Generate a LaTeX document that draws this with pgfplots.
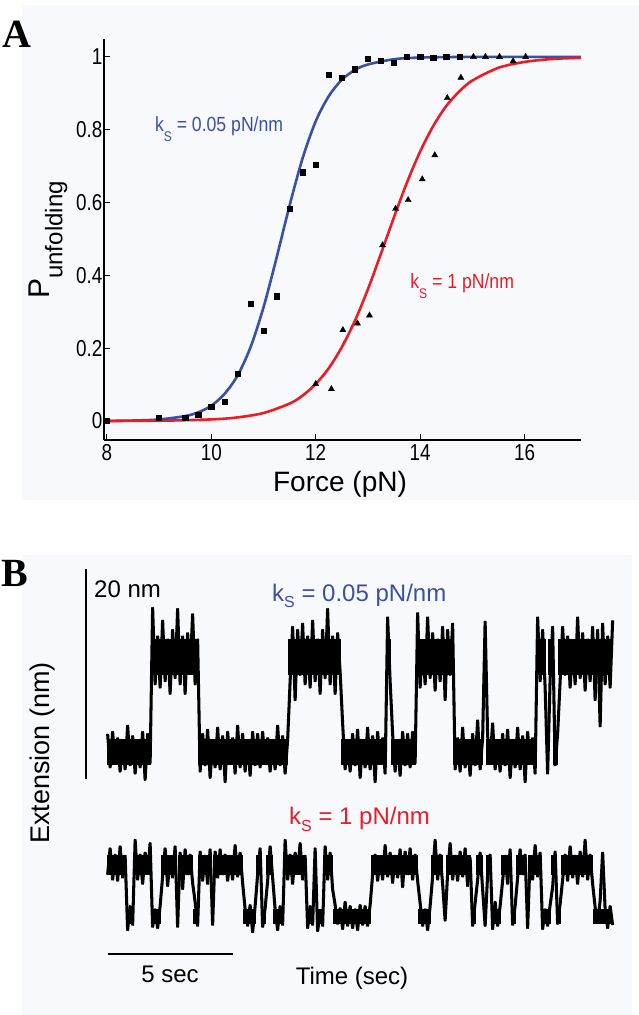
\documentclass[border=0pt]{standalone}
\usepackage{pgfplots}
\pgfplotsset{compat=1.18}
\usepackage{fontspec}
\setmainfont{Liberation Sans}
\newfontfamily\cfont{Liberation Sans}[FakeStretch=0.86]
\newfontfamily\tfont{Liberation Sans}[FakeStretch=0.82]
\newfontfamily\serifb{Liberation Serif}
\definecolor{bgc}{RGB}{248,249,252}
\definecolor{fitblue}{RGB}{58,80,168}
\definecolor{fitred}{RGB}{236,28,36}
\pgfplotsset{trace/.style={black, line width=1.8pt, line join=round, mark=none},
  core/.style={black, mark=none, unbounded coords=jump, line cap=butt}}
% extension traces (time in s, extension in nm)
\newcommand\toptrace{(0,4.3)(0.1,1.1)(0.2,4.5)(0.3,1.5)(0.4,3.9)(0.5,0.7)(0.6,3.6)(0.7,0.9)(0.8,5.1)(0.9,1.3)(1,4.1)(1.1,0.5)(1.2,3.7)(1.3,1.1)(1.4,4.5)(1.5,-0.1)(1.6,4.3)(1.7,1.5)
(1.8,16.3)(1.9,9.0)(2,13.6)(2.1,8.7)(2.2,15.1)(2.3,9.3)(2.4,13.3)(2.5,8.1)(2.6,14.2)(2.7,9.6)(2.8,16.2)(2.9,9.0)(3,13.6)(3.1,8.1)(3.2,13.9)(3.3,10.2)(3.4,15.7)(3.5,9.0)(3.6,13.3)
(3.7,0.7)(3.8,4.3)(3.9,1.3)(4,4.7)(4.1,0.1)(4.2,3.6)(4.3,1.1)(4.4,4.9)(4.5,0.9)(4.6,4.1)(4.7,-0.3)(4.8,4.5)(4.9,1.5)(5,3.9)(5.1,0.5)(5.2,5.1)(5.3,1.1)(5.4,4.3)(5.5,0.7)(5.6,3.7)(5.7,0.3)(5.8,4.5)(5.9,1.3)(6,4.3)(6.1,1.1)(6.2,4.5)(6.3,1.5)(6.4,3.9)(6.5,0.7)(6.6,3.6)(6.7,0.9)(6.8,5.1)(6.9,1.3)(7,4.1)(7.1,0.5)(7.2,3.7)
(7.3,9.3)(7.4,14.5)(7.5,7.5)(7.6,14.2)(7.7,9.9)(7.8,14.8)(7.9,9.0)(8,13.6)(8.1,8.7)(8.2,15.1)(8.3,9.3)(8.4,13.3)(8.5,8.1)(8.6,14.2)(8.7,9.6)(8.8,16.2)(8.9,9.0)(9,13.6)(9.1,8.1)(9.2,13.9)(9.3,10.2)
(9.4,5.3)(9.5,0.9)(9.6,3.7)(9.7,0.7)(9.8,4.3)(9.9,1.3)(10,4.7)(10.1,0.1)(10.2,3.6)(10.3,1.1)(10.4,4.9)(10.5,0.9)(10.6,4.1)(10.7,-0.3)(10.8,4.5)(10.9,1.5)(11,3.9)(11.1,0.5)
(11.2,15.4)(11.3,9.3)
(11.4,4.3)(11.5,0.7)(11.6,3.7)(11.7,0.3)(11.8,4.5)(11.9,1.3)(12,4.3)(12.1,1.1)(12.2,4.5)(12.3,1.5)
(12.4,15.8)(12.5,8.7)(12.6,13.1)(12.7,9.0)(12.8,15.4)(12.9,9.6)(13,13.9)(13.1,8.4)(13.2,13.3)(13.3,9.3)(13.4,14.5)(13.5,7.5)(13.6,14.2)(13.7,9.9)(13.8,14.8)
(13.9,0.9)(14,3.9)(14.1,0.7)(14.2,4.9)(14.3,1.1)(14.4,3.7)(14.5,0.3)(14.6,4.3)(14.7,1.3)(14.8,5.6)(14.9,0.9)(15,3.9)
(15.1,15.0)
(15.2,4.1)(15.3,1.7)(15.4,5.3)(15.5,0.9)(15.6,3.7)(15.7,0.7)(15.8,4.3)(15.9,1.3)(16,4.7)(16.1,0.1)(16.2,3.6)(16.3,1.1)(16.4,4.9)(16.5,0.9)(16.6,4.1)(16.7,-0.3)(16.8,4.5)(16.9,1.5)(17,3.9)(17.1,0.5)
(17.2,15.4)(17.3,9.3)(17.4,14.2)(17.5,8.7)
(17.6,0.5)
(17.7,9.5)(17.8,14.5)
(17.9,1.3)(18,4.3)
(18.1,9.3)(18.2,14.5)(18.3,9.9)(18.4,13.6)(18.5,8.7)(18.6,13.1)(18.7,9.0)(18.8,15.4)(18.9,9.6)(19,13.9)(19.1,8.4)(19.2,13.3)(19.3,9.3)(19.4,14.5)(19.5,7.5)(19.6,14.2)(19.7,5.0)(19.8,14.8)(19.9,9.0)(20,13.6)(20.1,8.7)(20.2,15.1)}
\newcommand\bottrace{(0,-9.1)(0.1,-6.6)(0.2,-9.6)(0.3,-7.2)(0.4,-9.7)(0.5,-6.4)(0.6,-9.4)(0.7,-7.3)
(0.8,-14.4)(0.9,-12.1)(1,-13.9)
(1.1,-5.8)(1.2,-9.6)(1.3,-7.2)(1.4,-10.0)(1.5,-7.0)(1.6,-9.0)(1.7,-6.1)
(1.8,-14.1)(1.9,-12.4)(2,-14.2)(2.1,-12.1)
(2.2,-9.3)(2.3,-6.6)(2.4,-10.2)(2.5,-7.5)(2.6,-9.4)(2.7,-6.4)
(2.8,-14.1)
(2.9,-7.0)(3,-10.5)(3.1,-6.7)(3.2,-9.1)(3.3,-7.2)(3.4,-9.9)
(3.5,-11.7)(3.6,-14.0)
(3.7,-6.9)(3.8,-9.7)(3.9,-7.3)(4,-10.0)(4.1,-6.7)
(4.2,-13.9)
(4.3,-6.9)(4.4,-9.4)(4.5,-6.7)(4.6,-9.1)(4.7,-7.2)(4.8,-9.7)(4.9,-7.5)(5,-9.6)(5.1,-6.3)(5.2,-9.3)(5.3,-7.0)(5.4,-9.9)
(5.5,-12.4)(5.6,-14.0)(5.7,-12.0)(5.8,-14.6)(5.9,-12.1)
(6,-9.1)(6.1,-6.6)
(6.2,-14.1)(6.3,-12.3)
(6.4,-9.7)(6.5,-6.4)(6.6,-9.4)
(6.7,-12.4)(6.8,-14.4)(6.9,-12.1)(7,-13.9)
(7.1,-5.8)(7.2,-9.6)(7.3,-7.2)(7.4,-10.0)(7.5,-7.0)(7.6,-9.0)(7.7,-6.1)(7.8,-9.6)(7.9,-7.3)
(8,-14.2)(8.1,-12.1)(8.2,-13.9)
(8.3,-6.6)
(8.4,-14.5)(8.5,-12.6)(8.6,-14.0)
(8.7,-6.4)(8.8,-9.6)(8.9,-7.0)(9,-10.5)
(9.1,-12.0)(9.2,-13.8)(9.3,-12.3)(9.4,-14.3)(9.5,-11.7)(9.6,-14.0)(9.7,-12.1)(9.8,-14.2)(9.9,-12.4)(10,-14.4)(10.1,-12.0)(10.2,-13.9)(10.3,-12.1)(10.4,-14.0)(10.5,-12.0)
(10.6,-9.1)(10.7,-7.2)(10.8,-9.7)(10.9,-7.5)(11,-9.6)(11.1,-6.3)(11.2,-9.3)(11.3,-7.0)(11.4,-9.9)(11.5,-7.3)(11.6,-9.4)(11.7,-6.7)(11.8,-10.3)(11.9,-6.9)(12,-9.1)(12.1,-6.6)(12.2,-9.6)(12.3,-7.2)(12.4,-9.7)
(12.5,-11.8)(12.6,-14.0)(12.7,-12.4)(12.8,-14.4)(12.9,-12.1)
(13,-9.3)(13.1,-5.8)(13.2,-9.6)(13.3,-7.2)(13.4,-10.0)
(13.5,-13.5)
(13.6,-9.0)(13.7,-6.1)(13.8,-9.6)(13.9,-7.3)(14,-9.7)(14.1,-6.9)(14.2,-9.3)(14.3,-6.6)(14.4,-10.2)(14.5,-7.5)
(14.6,-14.0)(14.7,-11.8)
(14.8,-9.6)(14.9,-7.0)(15,-10.5)
(15.1,-14.0)
(15.2,-9.1)(15.3,-7.2)
(15.4,-14.3)(15.5,-11.7)(15.6,-14.0)(15.7,-12.1)
(15.8,-9.7)(15.9,-7.3)(16,-10.0)(16.1,-6.7)
(16.2,-13.9)(16.3,-12.1)
(16.4,-9.4)(16.5,-6.7)(16.6,-9.1)(16.7,-7.2)
(16.8,-14.2)
(16.9,-7.5)(17,-9.6)(17.1,-6.3)(17.2,-9.3)(17.3,-7.0)
(17.4,-14.3)(17.5,-12.4)(17.6,-14.0)(17.7,-12.0)
(17.8,-10.3)(17.9,-6.9)
(18,-13.8)(18.1,-11.9)
(18.2,-9.6)(18.3,-7.2)(18.4,-9.7)(18.5,-6.4)(18.6,-9.4)(18.7,-7.3)(18.8,-10.0)(18.9,-6.9)(19,-9.3)(19.1,-5.8)(19.2,-9.6)(19.3,-7.2)(19.4,-10.0)
(19.5,-12.2)(19.6,-13.7)(19.7,-11.6)(19.8,-7.0)(19.9,-12.4)(20,-14.2)(20.1,-12.1)(20.2,-13.9)}
\begin{document}
\begin{tikzpicture}[x=1pt,y=1pt]
\fill[white] (0,0) rectangle (639,1015);
\fill[bgc] (22,515) rectangle (639,1010);
\fill[bgc] (22,0) rectangle (632,460);
\node[anchor=base west, inner sep=0] at (2,967) {\serifb\bfseries\fontsize{40}{40}\selectfont A};
\node[anchor=base west, inner sep=0] at (1,428) {\serifb\bfseries\fontsize{40}{40}\selectfont B};
\node[anchor=base, inner sep=0] at (340,523) {\fontsize{28}{28}\selectfont Force (pN)};
\node[rotate=90, inner sep=0] at (48,775) {\fontsize{30}{30}\selectfont P\raisebox{-13pt}{\fontsize{24}{24}\selectfont unfolding}};

% ---------------- Panel A ----------------
\begin{axis}[
  at={(104pt,575pt)}, anchor=south west, scale only axis,
  width=477pt, height=401pt,
  xmin=7.946, xmax=17.08, ymin=-0.052, ymax=1.049,
  axis lines*=left, axis line style={-, line width=1.5pt},
  xtick={8,10,12,14,16}, ytick={0,0.2,0.4,0.6,0.8,1},
  tick align=inside, major tick length=6pt,
  tick style={line width=1.2pt, black},
  ticklabel style={font=\tfont\fontsize{23}{23}\selectfont},
  xticklabel style={yshift=-1pt},
  yticklabel style={xshift=2pt},
  /pgf/number format/assume math mode=true,
  clip=false,
]
\addplot[fitblue, line width=2.6pt, smooth, mark=none] coordinates {
(7.95,0.0004)(8.5,0.0014)(9.0,0.0043)(9.5,0.0137)(9.75,0.024)(10.0,0.042)(10.25,0.074)(10.5,0.124)(10.75,0.202)(11.0,0.312)(11.25,0.448)(11.5,0.592)(11.75,0.722)(12.0,0.823)(12.25,0.892)(12.5,0.937)(12.75,0.964)(13.0,0.979)(13.5,0.9935)(14.0,0.998)(15.0,0.9998)(17.08,1.0)};
\addplot[fitred, line width=2.6pt, smooth, mark=none] coordinates {
(7.95,0.0002)(9,0.0009)(10,0.0045)(10.5,0.0100)(11,0.0221)(11.5,0.048)(11.75,0.070)(12,0.102)(12.25,0.145)(12.5,0.203)(12.75,0.275)(13.0,0.362)(13.25,0.460)(13.5,0.560)(13.75,0.656)(14.0,0.740)(14.25,0.810)(14.5,0.865)(14.75,0.905)(15.0,0.935)(15.5,0.970)(16.0,0.986)(16.5,0.9938)(17.08,0.9976)};
\addplot[only marks, mark=square*, mark size=2.6pt, black] coordinates {
(8.0,0.0)(9.0,0.01)(9.5,0.01)(9.75,0.017)(10.0,0.039)(10.25,0.053)(10.5,0.131)(10.75,0.323)(11.0,0.248)(11.25,0.343)(11.5,0.582)(11.75,0.683)(12.0,0.704)(12.25,0.951)(12.5,0.943)(12.75,0.966)(13.0,0.995)(13.25,0.989)(13.5,0.984)(13.75,1.0)(14.0,1.0)(14.25,0.998)(14.5,1.0)(14.75,1.0)};
\addplot[only marks, mark=triangle*, mark size=3.5pt, black] coordinates {
(12.0,0.102)(12.3,0.088)(12.52,0.25)(12.8,0.268)(13.03,0.29)(13.28,0.483)(13.53,0.583)(13.77,0.607)(14.04,0.664)(14.28,0.73)(14.52,0.887)(14.78,0.943)(15.02,1.0)(15.25,1.0)(15.52,1.0)(15.78,0.988)(16.02,1.0)};
\node[anchor=base west, inner sep=0, text=fitblue] at (axis cs:8.92,0.794) {\cfont\fontsize{20.5}{20.5}\selectfont k\raisebox{-10pt}{\fontsize{14}{14}\selectfont S} = 0.05 pN/nm};
\node[anchor=base west, inner sep=0, text=fitred] at (axis cs:13.81,0.365) {\cfont\fontsize{20.5}{20.5}\selectfont k\raisebox{-10pt}{\fontsize{14}{14}\selectfont S} = 1 pN/nm};
\end{axis}

% ---------------- Panel B ----------------
\begin{axis}[
  at={(82pt,47pt)}, anchor=south west, scale only axis,
  width=550pt, height=409.5pt,
  xmin=-1, xmax=21, ymin=-18, ymax=21,
  hide axis, clip=false,
]
% scale bars
\addplot[black, line width=1.6pt, mark=none] coordinates {(-0.84,0)(-0.84,20)};
\addplot[black, line width=2.2pt, mark=none] coordinates {(0.04,-16.67)(5.04,-16.67)};
% dense cores of the dwell states
\addplot[core, line width=36pt] coordinates {(1.75,11.6)(3.65,11.6)(3.65,nan)(7.25,11.6)(9.35,11.6)(9.35,nan)(11.15,11.6)(11.35,11.6)(11.35,nan)(12.35,11.6)(13.85,11.6)(13.85,nan)(17.15,11.6)(17.55,11.6)(17.55,nan)(17.65,11.6)(17.85,11.6)(17.85,nan)(18.05,11.6)(20.2,11.6)};
\addplot[core, line width=26pt] coordinates {(0,2.6)(1.75,2.6)(1.75,nan)(3.65,2.6)(7.25,2.6)(7.25,nan)(9.35,2.6)(11.15,2.6)(11.15,nan)(11.35,2.6)(12.35,2.6)(12.35,nan)(13.85,2.6)(15.05,2.6)(15.05,nan)(15.15,2.6)(17.15,2.6)(17.15,nan)(17.85,2.6)(18.05,2.6)};
\addplot[core, line width=20pt] coordinates {(0,-8.2)(0.75,-8.2)(0.75,nan)(1.05,-8.2)(1.75,-8.2)(1.75,nan)(2.15,-8.2)(2.75,-8.2)(2.75,nan)(2.85,-8.2)(3.45,-8.2)(3.45,nan)(3.65,-8.2)(4.15,-8.2)(4.15,nan)(4.25,-8.2)(5.45,-8.2)(5.45,nan)(5.95,-8.2)(6.15,-8.2)(6.15,nan)(6.35,-8.2)(6.65,-8.2)(6.65,nan)(7.05,-8.2)(7.95,-8.2)(7.95,nan)(8.65,-8.2)(9.05,-8.2)(9.05,nan)(10.55,-8.2)(12.45,-8.2)(12.45,nan)(12.95,-8.2)(13.45,-8.2)(13.45,nan)(13.55,-8.2)(14.55,-8.2)(14.55,nan)(14.75,-8.2)(15.05,-8.2)(15.05,nan)(15.15,-8.2)(15.35,-8.2)(15.35,nan)(15.75,-8.2)(16.15,-8.2)(16.15,nan)(16.35,-8.2)(16.75,-8.2)(16.75,nan)(16.85,-8.2)(17.35,-8.2)(17.35,nan)(17.75,-8.2)(17.95,-8.2)(17.95,nan)(18.15,-8.2)(19.45,-8.2)};
\addplot[core, line width=15pt] coordinates {(0.75,-13.1)(1.05,-13.1)(1.05,nan)(1.75,-13.1)(2.15,-13.1)(2.15,nan)(3.45,-13.1)(3.65,-13.1)(3.65,nan)(5.45,-13.1)(5.95,-13.1)(5.95,nan)(6.15,-13.1)(6.35,-13.1)(6.35,nan)(6.65,-13.1)(7.05,-13.1)(7.05,nan)(7.95,-13.1)(8.25,-13.1)(8.25,nan)(8.35,-13.1)(8.65,-13.1)(8.65,nan)(9.05,-13.1)(10.55,-13.1)(10.55,nan)(12.45,-13.1)(12.95,-13.1)(12.95,nan)(14.55,-13.1)(14.75,-13.1)(14.75,nan)(15.35,-13.1)(15.75,-13.1)(15.75,nan)(16.15,-13.1)(16.35,-13.1)(16.35,nan)(17.35,-13.1)(17.75,-13.1)(17.75,nan)(17.95,-13.1)(18.15,-13.1)(18.15,nan)(19.45,-13.1)(20.2,-13.1)};
% traces
\edef\drawtrace{\noexpand\addplot[trace] coordinates {\toptrace};}\drawtrace
\edef\drawtrace{\noexpand\addplot[trace, transform canvas={xshift=1.25pt}] coordinates {\toptrace};}\drawtrace
\edef\drawtrace{\noexpand\addplot[trace] coordinates {\bottrace};}\drawtrace
\edef\drawtrace{\noexpand\addplot[trace, transform canvas={xshift=1.25pt}] coordinates {\bottrace};}\drawtrace
\node[anchor=base west, inner sep=0] at (axis cs:-0.52,17.33) {\fontsize{24}{24}\selectfont 20 nm};
\node[anchor=base west, inner sep=0, text=fitblue] at (axis cs:6.6,16.9) {\fontsize{24}{24}\selectfont k\raisebox{-6pt}{\fontsize{16}{16}\selectfont S} = 0.05 pN/nm};
\node[anchor=base west, inner sep=0, text=fitred] at (axis cs:7.28,-4.38) {\fontsize{24}{24}\selectfont k\raisebox{-7pt}{\fontsize{16}{16}\selectfont S} = 1 pN/nm};
\node[rotate=90, inner sep=0] at (axis cs:-2.56,2.48) {\fontsize{27}{27}\selectfont Extension (nm)};
\node[anchor=base, inner sep=0] at (axis cs:2.52,-19.4) {\fontsize{24}{24}\selectfont 5 sec};
\node[anchor=base, inner sep=0] at (axis cs:9.8,-19.6) {\fontsize{24}{24}\selectfont Time (sec)};
\end{axis}
\pgfresetboundingbox
\useasboundingbox (0,0) rectangle (639,1015);
\end{tikzpicture}
\end{document}
